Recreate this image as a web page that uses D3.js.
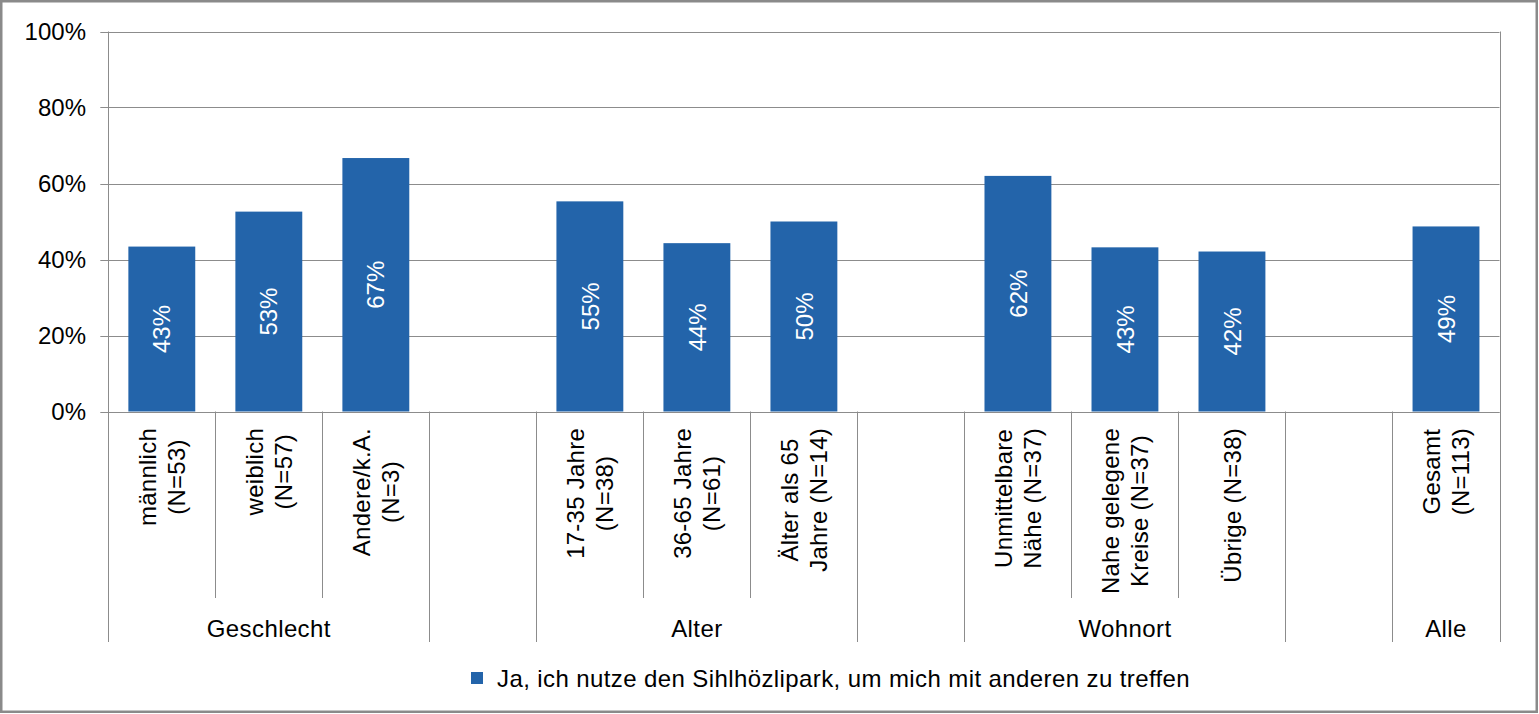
<!DOCTYPE html>
<html>
<head>
<meta charset="utf-8">
<script src="https://cdn.jsdelivr.net/npm/d3@7"></script>
<style>
  html, body { margin: 0; padding: 0; background: #fff; }
  svg { display: block; font-family: "Liberation Sans", Arial, sans-serif; }
</style>
</head>
<body>
<svg id="chart" width="1539" height="714"></svg>
<script>
// ---- data ----
const groups = ["Geschlecht", "Alter", "Wohnort", "Alle"];
const groupCategories = [
  ["männlich\n(N=53)", "weiblich\n(N=57)", "Andere/k.A.\n(N=3)"],
  ["17-35 Jahre\n(N=38)", "36-65 Jahre\n(N=61)", "Älter als 65\nJahre (N=14)"],
  ["Unmittelbare\nNähe (N=37)", "Nahe gelegene\nKreise (N=37)", "Übrige (N=38)"],
  ["Gesamt\n(N=113)"]
];
const groupValues = [
  [43.4, 52.6, 66.7],
  [55.3, 44.3, 50.0],
  [62.0, 43.2, 42.1],
  [48.7]
];
const yTicks = [0, 20, 40, 60, 80, 100];
const seriesName = "Ja, ich nutze den Sihlhözlipark, um mich mit anderen zu treffen";

(function () {
// ---- build slots (groups separated by an empty slot) ----
const slots = [];
const groupSpans = [];
groups.forEach((g, gi) => {
  const first = slots.length;
  groupCategories[gi].forEach((c, ci) => {
    slots.push({ key: "s" + slots.length, label: c, value: groupValues[gi][ci], group: gi });
  });
  groupSpans.push({ name: g, first: slots[first].key, last: slots[slots.length - 1].key });
  if (gi < groups.length - 1) {
    const k = "s" + slots.length;
    slots.push({ key: k, label: null, value: null, group: -1 });
    groupSpans.push({ name: "", first: k, last: k });
  }
});

// ---- layout ----
const svg = d3.select("#chart");
const W = 1539, H = 714;
const pLeft = 108.3, pRight = 1499.5, pTop = 31.5, pBottom = 411.5;
const barColor = "#2364AA";
const lineColor = "#8C8C8C";
const font = 24;
const spacing = "0.4px";

svg.append("rect").attr("x", 1.25).attr("y", 1.25).attr("width", W - 3.5).attr("height", H - 3.5)
  .attr("fill", "#fff").attr("stroke", "#8A8A8A").attr("stroke-width", 2.5);

const x = d3.scaleBand().domain(slots.map(d => d.key)).range([pLeft, pRight])
  .paddingInner(0.375).paddingOuter(0.1875);
const step = x.step();
const slotStart = k => x(k) - x.paddingInner() * step / 2;
const slotEnd = k => slotStart(k) + step;

const y = d3.scaleLinear().domain([0, 100]).range([pBottom, pTop]);

// gridlines
svg.append("g").selectAll("line").data(yTicks).join("line")
  .attr("x1", pLeft - 8).attr("x2", pRight)
  .attr("y1", d => Math.round(y(d)) + 0.5).attr("y2", d => Math.round(y(d)) + 0.5)
  .attr("stroke", lineColor).attr("stroke-width", 1);

// y labels
svg.append("g").selectAll("text").data(yTicks).join("text")
  .attr("x", 86).attr("y", d => y(d)).attr("dy", "0.36em")
  .attr("text-anchor", "end").attr("font-size", font).attr("fill", "#000")
  .text(d => d + "%");

// bars
const barSlots = slots.filter(d => d.value !== null);
svg.append("g").selectAll("rect").data(barSlots).join("rect")
  .attr("x", d => x(d.key)).attr("width", x.bandwidth())
  .attr("y", d => y(d.value)).attr("height", d => y(0) - y(d.value))
  .attr("fill", barColor);

// bar value labels
svg.append("g").selectAll("text").data(barSlots).join("text")
  .attr("transform", d => `translate(${x(d.key) + x.bandwidth() / 2},${(y(d.value) + y(0)) / 2}) rotate(-90)`)
  .attr("text-anchor", "middle").attr("dy", "0.36em")
  .attr("font-size", font).attr("fill", "#fff")
  .text(d => Math.round(d.value) + "%");

// axis / separator lines
const lineG = svg.append("g").attr("stroke", lineColor).attr("stroke-width", 1);
const innerBottom = 598, groupBottom = 642;
const groupBounds = new Set();
groupSpans.forEach(g => { groupBounds.add(Math.round(slotStart(g.first))); groupBounds.add(Math.round(slotEnd(g.last))); });
const allBounds = [];
slots.forEach(s => allBounds.push(Math.round(slotStart(s.key))));
allBounds.push(Math.round(slotEnd(slots[slots.length - 1].key)));
const edgeL = allBounds[0], edgeR = allBounds[allBounds.length - 1];
allBounds.forEach(b => {
  const isGroup = groupBounds.has(b);
  const isEdge = b === edgeL || b === edgeR;
  lineG.append("line").attr("x1", b + 0.5).attr("x2", b + 0.5)
    .attr("y1", isEdge ? pTop : pBottom)
    .attr("y2", isGroup ? groupBottom : innerBottom);
});
lineG.append("line").attr("x1", pLeft).attr("x2", pRight)
  .attr("y1", Math.round(pBottom) + 0.5).attr("y2", Math.round(pBottom) + 0.5);

// category labels (rotated, wrapped)
const lineGap = 28.5;
const capHalf = 0.716 * font / 2;
const labG = svg.append("g");
slots.filter(d => d.label).forEach(d => {
  const lines = d.label.split("\n");
  const cx = x(d.key) + x.bandwidth() / 2;
  const g = labG.append("g").attr("transform", `translate(${cx},${pBottom}) rotate(-90)`);
  const texts = lines.map((ln, i) => g.append("text")
    .attr("font-size", font).attr("fill", "#000").attr("text-anchor", "middle")
    .attr("letter-spacing", "0.25px")
    .attr("y", (i - (lines.length - 1) / 2) * lineGap + capHalf)
    .text(ln));
  const maxLen = d3.max(texts, t => t.node().getComputedTextLength());
  texts.forEach(t => t.attr("x", -(16.5 + maxLen / 2)));
});

// group labels
svg.append("g").selectAll("text").data(groupSpans.filter(g => g.name)).join("text")
  .attr("x", d => (slotStart(d.first) + slotEnd(d.last)) / 2)
  .attr("y", 637).attr("text-anchor", "middle")
  .attr("font-size", font).attr("fill", "#000").attr("letter-spacing", spacing)
  .text(d => d.name);

// legend
const leg = svg.append("g");
leg.append("rect").attr("x", 471).attr("y", 672).attr("width", 12).attr("height", 12).attr("fill", barColor);
leg.append("text").attr("x", 497).attr("y", 687).attr("font-size", font).attr("fill", "#000")
  .attr("letter-spacing", spacing).text(seriesName);
})();
</script>
</body>
</html>
